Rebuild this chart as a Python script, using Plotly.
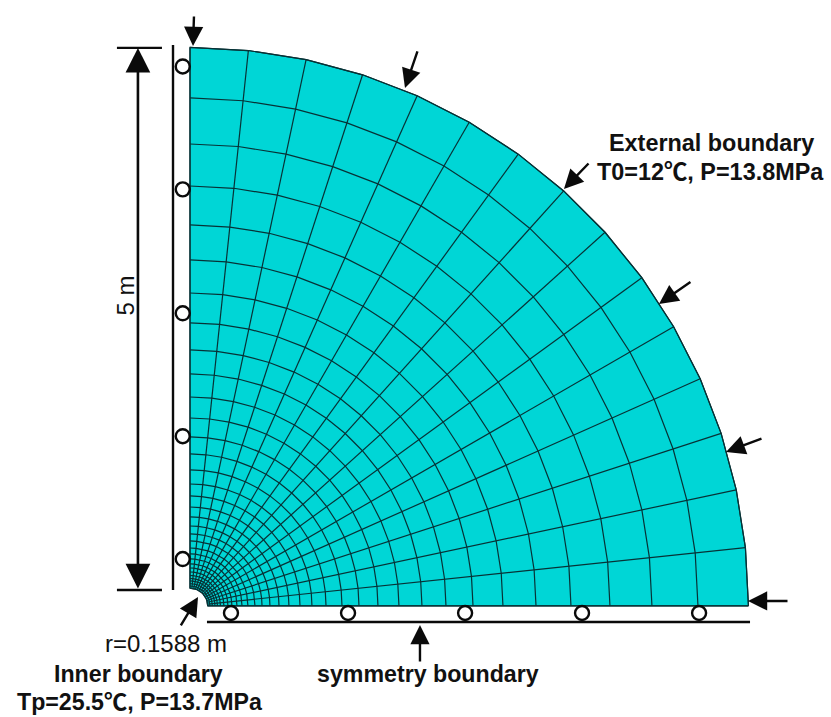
import numpy as np
import plotly.graph_objects as go

# Mesh (metres)
RING_RADII = [5.00, 4.548, 4.136, 3.760, 3.411, 3.098, 2.802, 2.534, 2.292, 2.077, 1.871,
              1.683, 1.513, 1.361, 1.218, 1.092, 0.985, 0.886, 0.797, 0.716, 0.645, 0.582,
              0.519, 0.466, 0.421, 0.376, 0.340, 0.304, 0.273, 0.246, 0.224, 0.201, 0.179, 0.1588]
SECTOR_ANGLES_DEG = [0, 6, 12, 18, 24, 30, 36, 42, 48, 54, 60, 66, 72, 78, 84, 90]

# Roller supports (metres along each boundary)
ROLLER_WALL_Y = [0.42, 1.52, 2.62, 3.73, 4.83]
ROLLER_WALL_X = [-0.065] * 5
ROLLER_FLOOR_X = [0.367, 1.415, 2.463, 3.510, 4.558]
ROLLER_FLOOR_Y = [-0.063] * 5

# Load arrows: (tail x, tail y, tip x, tip y)
LOAD_ARROWS = [
    (0.036, 5.291, 0.027, 5.014),
    (2.041, 4.978, 1.925, 4.638),
    (3.581, 3.975, 3.348, 3.733),
    (4.494, 2.910, 4.199, 2.704),
    (5.130, 1.504, 4.799, 1.379),
    (5.363, 0.045, 4.996, 0.045),
    (-0.090, -0.188, 0.072, 0.081),
    (2.059, -0.510, 2.059, -0.170),
]

LABELS = [
    ("External boundary", 4.673, 4.145, True, 0, 23.4),
    ("T0=12\u2103, P=13.8MPa", 4.664, 3.885, True, 0, 23.4),
    ("5 m", -0.582, 2.78, False, -90, 24),
    ("r=0.1588 m", -0.215, -0.335, False, 0, 24),
    ("Inner boundary", -0.457, -0.609, True, 0, 23.2),
    ("Tp=25.5\u2103, P=13.7MPa", -0.448, -0.859, True, 0, 23.2),
    ("symmetry boundary", 2.131, -0.609, True, 0, 23.2),
]

FILL = "#00D6D6"
MESH = "#073236"
theta = np.radians(SECTOR_ANGLES_DEG)
radii = np.array(RING_RADII)

fig = go.Figure()

# Filled region
outer_x = radii[0] * np.cos(theta)
outer_y = radii[0] * np.sin(theta)
inner_x = radii[-1] * np.cos(theta[::-1])
inner_y = radii[-1] * np.sin(theta[::-1])
fig.add_trace(go.Scatter(x=np.r_[outer_x, inner_x, outer_x[0]], y=np.r_[outer_y, inner_y, outer_y[0]],
                         mode="lines", fill="toself", fillcolor=FILL,
                         line=dict(color=MESH, width=1.2), hoverinfo="skip"))

# Mesh lines
mx, my = [], []
for r in radii:
    mx += list(r * np.cos(theta)) + [None]
    my += list(r * np.sin(theta)) + [None]
for t in theta:
    mx += [radii[0] * np.cos(t), radii[-1] * np.cos(t), None]
    my += [radii[0] * np.sin(t), radii[-1] * np.sin(t), None]
fig.add_trace(go.Scatter(x=mx, y=my, mode="lines", line=dict(color=MESH, width=1.2), hoverinfo="skip"))

# Support walls and dimension ticks
BLACK = "#0A0A0A"
fig.add_trace(go.Scatter(x=[-0.152, -0.152, None, 0.152, 5.014, None, -0.654, -0.251, None, -0.654, -0.251],
                         y=[5.023, 0.143, None, -0.143, -0.143, None, 4.996, 4.996, None, 0.143, 0.143],
                         mode="lines", line=dict(color=BLACK, width=2.4), hoverinfo="skip"))

# Rollers
fig.add_trace(go.Scatter(x=ROLLER_WALL_X + ROLLER_FLOOR_X, y=ROLLER_WALL_Y + ROLLER_FLOOR_Y, mode="markers",
                         marker=dict(size=14, color="white", line=dict(color=BLACK, width=2.4)),
                         hoverinfo="skip"))

annotations = []
for tx, ty, hx, hy in LOAD_ARROWS:
    annotations.append(dict(x=hx, y=hy, ax=tx, ay=ty, xref="x", yref="y", axref="x", ayref="y", text="",
                            showarrow=True, arrowhead=2, arrowsize=1.6, arrowwidth=2.4, arrowcolor=BLACK))
annotations.append(dict(x=-0.466, y=4.996, ax=-0.466, ay=0.143, xref="x", yref="y", axref="x", ayref="y", text="",
                        showarrow=True, arrowhead=2, startarrowhead=2, arrowside="end+start",
                        arrowsize=1.9, startarrowsize=1.9, arrowwidth=2.6, arrowcolor=BLACK))
for text, x, y, bold, angle, size in LABELS:
    annotations.append(dict(x=x, y=y, xref="x", yref="y", text=f"<b>{text}</b>" if bold else text,
                            showarrow=False, textangle=angle,
                            font=dict(family="Liberation Sans, Noto Sans CJK SC", size=size, color="#111111")))

fig.update_layout(
    width=831, height=717, autosize=False, showlegend=False,
    margin=dict(l=0, r=0, t=0, b=0),
    paper_bgcolor="white", plot_bgcolor="white",
    xaxis=dict(range=[-1.701, 5.739], visible=False, fixedrange=True),
    yaxis=dict(range=[-0.994, 5.425], visible=False, fixedrange=True),
    annotations=annotations,
)
fig.write_html("out.html", config=dict(displayModeBar=False),
               post_script="document.body.style.margin='0';document.documentElement.style.overflow='hidden';")
